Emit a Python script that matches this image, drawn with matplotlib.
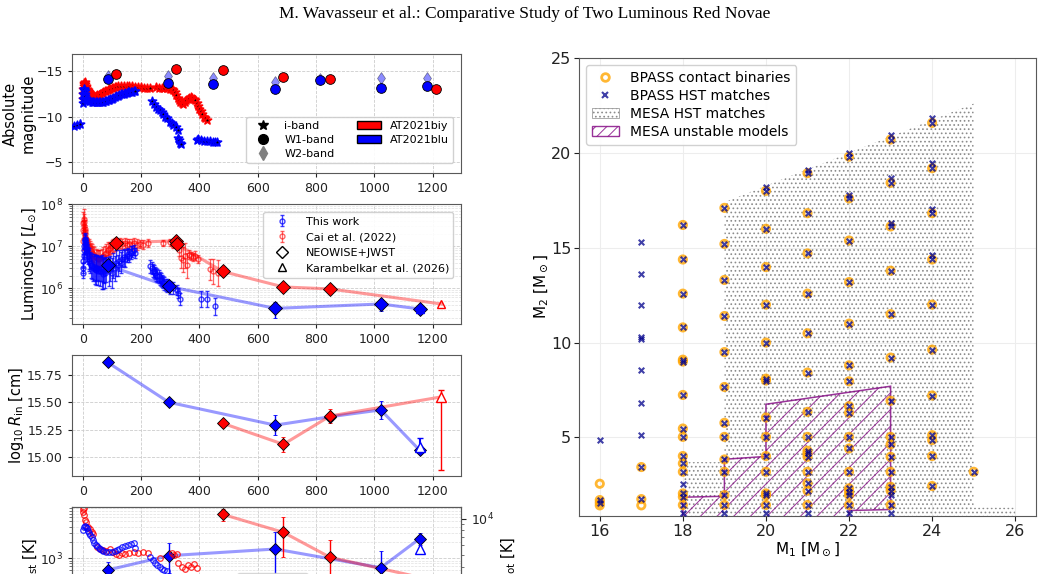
import numpy as np
import matplotlib
matplotlib.use("Agg")
import matplotlib.pyplot as plt
from matplotlib.lines import Line2D
from matplotlib.patches import Patch, Polygon
from matplotlib.ticker import NullFormatter

# ---------------- data: panel 1 (absolute magnitude) ----------------
biy_i_day = [0, 1, 2, 3, 4, 5, 6, 8, 10, 12, 15, 18, 22, 26, 30, 35, 40, 45, 50, 55, 60, 65, 70,
             75, 80, 85, 90, 95, 100, 105, 110, 115, 120, 130, 140, 150, 160, 170, 180, 190, 200,
             210, 220, 230, 250, 260, 270, 280, 290, 300, 305, 310, 315, 320, 325, 330, 335, 340,
             345, 350, 355, 360, 365, 370, 375, 380, 385, 390, 395, 400, 405, 410, 415, 420, 425]
biy_i_mag = [-12.0, -12.5, -13.0, -13.4, -13.6, -13.7, -13.8, -13.6, -13.4, -13.3, -13.1, -12.9,
             -12.7, -12.55, -12.45, -12.35, -12.3, -12.3, -12.35, -12.4, -12.5, -12.6, -12.7,
             -12.8, -12.85, -12.95, -13.0, -13.1, -13.15, -13.2, -13.25, -13.3, -13.35, -13.4,
             -13.4, -13.4, -13.35, -13.35, -13.3, -13.3, -13.25, -13.2, -13.2, -13.15, -13.25,
             -13.2, -13.2, -13.2, -13.15, -13.1, -13.0, -12.9, -12.7, -12.4, -12.1, -11.8, -11.6,
             -11.5, -11.45, -11.6, -11.8, -12.0, -12.1, -12.2, -12.1, -11.95, -11.8, -11.5, -11.2,
             -10.9, -10.6, -10.3, -10.0, -9.8, -9.6]

blu_i_day = [-30, -20, -8, 0, 1, 2, 3, 4, 5, 6, 7, 8, 10, 12, 14, 17, 20, 25, 30, 35, 40, 45, 50,
             55, 60, 65, 70, 75, 80, 85, 90, 95, 100, 105, 110, 115, 120, 125, 130, 135, 140, 145,
             150, 155, 160, 165, 170, 175, 180, 236, 245, 252, 259, 265, 270, 276, 282, 290, 299,
             305, 310, 320, 325, 328, 331, 334, 336, 390, 395, 405, 415, 425, 435, 445, 452, 459]
blu_i_mag = [-9.0, -9.1, -9.2, -11.5, -12.0, -12.5, -12.9, -13.1, -13.0, -12.8, -12.5, -12.3,
             -12.0, -12.0, -11.8, -11.8, -11.7, -11.7, -11.65, -11.6, -11.65, -11.6, -11.6, -11.6,
             -11.6, -11.62, -11.65, -11.7, -11.75, -11.8, -11.85, -11.95, -12.0, -12.1, -12.2,
             -12.25, -12.3, -12.4, -12.45, -12.5, -12.55, -12.6, -12.65, -12.7, -12.7, -12.75,
             -12.75, -12.8, -12.8, -11.75, -11.4, -11.1, -10.9, -10.7, -10.5, -10.3, -10.0, -9.8,
             -9.45, -9.3, -9.1, -8.9, -8.5, -7.6, -7.4, -7.15, -7.0, -7.45, -7.5, -7.4, -7.35,
             -7.37, -7.3, -7.25, -7.2, -7.2]

biy_w1_day = [115, 320, 480, 688, 848, 1210]
biy_w1_mag = [-14.7, -15.3, -15.1, -14.4, -14.2, -13.1]
blu_w1_day = [85, 292, 448, 660, 815, 1022, 1180]
blu_w1_mag = [-14.1, -13.7, -13.6, -13.0, -14.0, -13.2, -13.4]
blu_w2_day = [85, 292, 448, 660, 815, 1022, 1180]
blu_w2_mag = [-14.5, -14.5, -14.3, -13.8, -14.2, -14.3, -14.3]

# ---------------- data: panel 2 (luminosity) ----------------
tw_day = [0, 1, 2, 3, 4, 5, 6, 7, 8, 9, 10, 11, 12, 14, 16, 18, 20, 23, 26, 29, 32, 35, 38, 41,
          44, 47, 50, 53, 56, 59, 62, 65, 68, 71, 74, 77, 80, 90, 95, 100, 105, 110, 115, 120,
          125, 130, 135, 140, 145, 150, 155, 160, 165, 170, 175, 180, 232, 236, 240, 244, 248,
          252, 256, 260, 264, 268, 272, 276, 280, 285, 290, 300, 310, 322, 327, 333, 405, 425, 452]
tw_lum = [2.3, 3.0, 4.5, 6.0, 8.0, 10, 12, 14, 15, 13, 11, 10, 9, 8, 7, 6, 5, 4.5, 4.0, 3.5, 3.3,
          3.0, 3.2, 2.8, 3.0, 2.7, 3.1, 2.6, 2.9, 2.5, 3.0, 2.4, 2.8, 2.2, 2.6, 2.3, 2.8, 2.5, 3.0,
          2.3, 3.5, 3.0, 4.0, 3.5, 4.5, 4.0, 5.0, 5.5, 5.0, 6.0, 6.5, 6.0, 7.0, 7.5, 8.0, 7.0, 3.3,
          3.0, 2.6, 2.5, 2.3, 2.1, 2.0, 1.9, 1.7, 1.6, 1.5, 1.4, 1.3, 1.2, 1.15, 1.05, 1.0, 0.9,
          0.75, 0.55, 0.55, 0.55, 0.37]
tw_err = [0.12, 0.12, 0.15, 0.15, 0.15, 0.15, 0.15, 0.15, 0.15, 0.15, 0.15, 0.15, 0.15, 0.2, 0.2,
          0.2, 0.25, 0.25, 0.25, 0.3, 0.3, 0.3, 0.3, 0.35, 0.3, 0.35, 0.3, 0.35, 0.3, 0.35, 0.3,
          0.4, 0.3, 0.35, 0.3, 0.35, 0.3, 0.35, 0.3, 0.35, 0.3, 0.3, 0.3, 0.25, 0.25, 0.25, 0.2,
          0.2, 0.2, 0.15, 0.15, 0.15, 0.15, 0.12, 0.12, 0.12, 0.15, 0.15, 0.15, 0.15, 0.15, 0.15,
          0.15, 0.15, 0.15, 0.15, 0.15, 0.15, 0.15, 0.15, 0.15, 0.15, 0.15, 0.12, 0.12, 0.15,
          0.2, 0.2, 0.2]

cai_day = [0, 1, 2, 3, 4, 5, 6, 7, 8, 9, 10, 12, 14, 17, 20, 24, 28, 32, 36, 40, 44, 48, 52, 56,
           60, 65, 70, 75, 80, 85, 90, 95, 100, 105, 110, 120, 128, 136, 144, 152, 160, 168, 176,
           185, 195, 205, 225, 276, 299, 310, 330, 337, 345, 352, 358, 365, 372, 378, 384, 395,
           435, 447, 462]
cai_lum = [13, 25, 36, 44, 38, 30, 26, 23, 20, 17, 15, 12, 11, 10, 9.5, 8.5, 7.5, 7, 6.5, 6, 5.5,
           5.2, 5, 5, 5.2, 5.5, 6, 6.5, 7, 8, 8.5, 9, 10, 10.5, 11, 11.5, 12, 11.5, 12, 11, 11.5,
           11, 12, 11, 11.5, 11, 12, 12, 12.5, 11, 8.3, 5.3, 4.8, 6, 3.5, 6.3, 5.8, 5.5, 6, 5, 2.8,
           2.5, 2.3]
cai_err = [0.2, 0.2, 0.25, 0.25, 0.2, 0.2, 0.2, 0.15, 0.15, 0.15, 0.15, 0.15, 0.15, 0.15, 0.2,
           0.2, 0.2, 0.2, 0.2, 0.2, 0.2, 0.2, 0.2, 0.2, 0.2, 0.2, 0.2, 0.2, 0.2, 0.2, 0.15, 0.15,
           0.15, 0.15, 0.15, 0.12, 0.12, 0.12, 0.12, 0.12, 0.12, 0.12, 0.12, 0.12, 0.1, 0.1, 0.1,
           0.08, 0.08, 0.08, 0.15, 0.25, 0.3, 0.3, 0.3, 0.1, 0.1, 0.1, 0.1, 0.1, 0.25, 0.3, 0.3]

biy_nw_day = [115, 320, 322, 480, 688, 848]
biy_nw_lum = [12, 13.5, 11.2, 2.5, 1.07, 0.96]
biy_nw_err = [0.05, 0.05, 0.05, 0.05, 0.06, 0.06]
blu_nw_day = [85, 295, 660, 1022, 1155]
blu_nw_lum = [3.5, 1.1, 0.33, 0.42, 0.32]
blu_nw_err = [0.05, 0.05, 0.15, 0.12, 0.05]
kar_day = [1230, 1157]
kar_lum = [0.42, 0.32]

# ---------------- data: panel 3 (inner radius) ----------------
biy_r_day = [480, 688, 848]
biy_r = [15.307, 15.114, 15.374]
biy_r_err = [0.0, 0.07, 0.06]
blu_r_day = [85, 295, 660, 848, 1022, 1155]
blu_r = [15.867, 15.50, 15.29, 15.367, 15.43, 15.06]
blu_r_err = [0.0, 0.0, 0.09, 0.0, 0.08, 0.02]
kar_r_day = [1230, 1157]
kar_r = [15.55, 15.09]
kar_r_lo = [0.67, 0.05]
kar_r_hi = [0.06, 0.08]

# ---------------- data: panel 4 (temperatures) ----------------
biy_td_day = [480, 688, 848, 1230]
biy_td = [6800, 3100, 1045, 355]
biy_td_lo = [1700, 2050, 595, 150]
biy_td_hi = [1800, 3050, 1175, 60]
blu_td_day = [85, 295, 660, 1022, 1155]
blu_td = [600, 1120, 1500, 664, 2350]
blu_td_lo = [150, 600, 1000, 400, 560]
blu_td_hi = [260, 855, 1690, 710, 620]
kar_td_day = [1157]
kar_td = [1500]

cai_tp_day = [0, 2, 3, 5, 8, 12, 18, 24, 30, 36, 49, 60, 70, 80, 93, 104, 115, 125, 135, 145,
              160, 175, 190, 207, 224, 265, 306, 314, 323, 328, 340, 350, 360, 370, 380, 392]
cai_tp = [11400, 12000, 12300, 10800, 9800, 9400, 8600, 8200, 7800, 7400, 5800, 5600, 5500, 5400,
          5600, 5300, 5100, 5000, 5200, 5100, 5200, 5300, 5200, 5300, 5200, 4700, 5200, 5000, 5100,
          4300, 4000, 3800, 4100, 4000, 4200, 3900]
tw_tp_day = [0, 3, 6, 10, 14, 18, 22, 26, 30, 35, 40, 45, 50, 55, 60, 65, 70, 80, 90, 100, 110,
             117, 125, 135, 145, 155, 165, 175, 180, 232, 240, 248, 256, 264, 272, 280, 288]
tw_tp = [8000, 8600, 8700, 8600, 8300, 7900, 7600, 7300, 7000, 6600, 6300, 6100, 5900, 5700, 5600,
         5500, 5400, 5300, 5250, 5300, 5350, 5450, 5600, 5800, 5950, 6100, 6200, 6250, 5700, 4800,
         4500, 4300, 4100, 3950, 3850, 3760, 3700]

# ---------------- data: right panel (M1 vs M2) ----------------
cb_m1 = ([16] * 4 + [17] * 3 + [18] * 15 + [19] * 12 + [20] * 14 + [21] * 15 + [22] * 16
         + [23] * 14 + [24] * 11 + [25])
cb_m2 = [2.56, 1.70, 1.56, 1.42,
         3.44, 1.75, 1.42,
         16.2, 14.38, 12.58, 10.8, 9.1, 9.0, 7.24, 5.47, 5.03, 4.02, 3.63, 3.19, 2.05, 1.87, 1.44,
         17.1, 15.2, 13.3, 11.4, 9.5, 7.66, 5.77, 5.03, 3.84, 3.19, 1.96, 1.44,
         18.0, 16.0, 13.98, 12.0, 10.0, 8.0, 8.1, 6.05, 5.03, 4.02, 3.19, 2.05, 1.95, 1.44,
         18.93, 16.82, 14.7, 12.58, 10.49, 8.42, 6.35, 5.03, 4.3, 4.16, 3.98, 3.19, 2.58, 2.19, 1.44,
         19.8, 17.6, 15.38, 13.19, 11.0, 8.8, 7.96, 6.65, 6.3, 5.03, 4.42, 3.19, 2.32, 2.14, 1.96,
         1.44,
         20.7, 18.42, 16.12, 13.79, 11.5, 9.21, 6.93, 5.03, 4.63, 3.98, 3.19, 2.4, 2.2, 1.44,
         21.58, 19.19, 16.82, 14.38, 12.0, 9.63, 7.21, 5.12, 4.86, 4.02, 2.44,
         3.19]

hst_m1 = ([16] * 3 + [17] * 10 + [18] * 17 + [19] * 13 + [20] * 16 + [21] * 17 + [22] * 19
          + [23] * 19 + [24] * 15 + [25])
hst_m2 = [4.86, 1.70, 1.56,
          15.3, 13.6, 12.0, 10.3, 10.2, 8.54, 6.84, 5.14, 3.44, 1.75,
          16.2, 14.38, 12.58, 10.8, 9.1, 9.0, 7.24, 5.47, 5.03, 4.02, 3.63, 3.19, 2.54, 2.05, 1.87,
          1.44, 1.03,
          17.1, 15.2, 13.3, 11.4, 9.5, 7.66, 5.77, 5.03, 3.84, 3.19, 1.96, 1.44, 1.03,
          18.2, 18.0, 16.0, 13.98, 12.0, 10.0, 8.0, 8.1, 6.05, 5.03, 4.02, 3.19, 2.05, 1.95, 1.44,
          1.03,
          19.1, 18.93, 16.82, 14.7, 12.58, 10.49, 8.42, 6.35, 5.03, 4.3, 4.16, 3.98, 3.19, 2.58,
          2.19, 1.44, 1.03,
          20.0, 19.8, 17.8, 17.6, 15.38, 13.19, 11.0, 8.8, 7.96, 6.65, 6.3, 5.03, 4.42, 3.19, 2.32,
          2.14, 1.96, 1.44, 1.03,
          20.95, 20.7, 18.65, 18.42, 16.3, 16.12, 13.79, 11.5, 9.21, 6.93, 5.03, 4.63, 3.98, 3.19,
          2.4, 2.2, 1.96, 1.44, 1.03,
          21.85, 21.58, 19.45, 19.19, 17.05, 16.82, 14.6, 14.38, 12.0, 9.63, 7.21, 5.12, 4.86,
          4.02, 2.44,
          3.19]

mesa_hst_poly = [(18, 0.0), (18, 3.7), (19, 3.7), (19, 17.4), (25, 22.6), (25, 1.3), (26, 1.3),
                 (26, 0.0)]
mesa_unstable_poly = [(18, 0.0), (18, 1.85), (19, 1.9), (19, 3.85), (20, 4.0), (20, 6.75),
                      (23, 7.7), (23, 1.2), (22, 1.15), (22, 0.0)]

# ---------------- figure ----------------
W, H = 1049, 574
plt.rcParams['font.family'] = 'DejaVu Sans'
plt.rcParams['hatch.linewidth'] = 0.7
fig = plt.figure(figsize=(W / 100, H / 100), dpi=100)


def box(l, t, r, b):
    return [l / W, 1 - b / H, (r - l) / W, (b - t) / H]


fig.text(0.5, 1 - 14 / H, 'M. Wavasseur et al.: Comparative Study of Two Luminous Red Novae',
         ha='center', va='center', family='Liberation Serif', fontsize=12.5)

spine_c = '0.35'
tick_c = '#222222'


def style_left(ax):
    for s in ax.spines.values():
        s.set_color(spine_c)
    ax.tick_params(labelsize=9, colors=tick_c, length=3)
    ax.tick_params(which='minor', colors=spine_c)
    ax.grid(True, which='major', ls='--', color='0.8', lw=0.6)
    ax.set_xlim(-37, 1297)
    ax.set_xticks([0, 200, 400, 600, 800, 1000, 1200])


# panel 1
ax1 = fig.add_axes(box(72, 54, 461, 173))
style_left(ax1)
ax1.scatter(biy_i_day, biy_i_mag, marker='*', s=38, facecolor='k', edgecolor='red', lw=1.2,
            zorder=3)
ax1.scatter(blu_i_day, blu_i_mag, marker='*', s=38, facecolor='k', edgecolor='blue', lw=1.2,
            zorder=3)
ax1.errorbar(blu_i_day[:3], blu_i_mag[:3], yerr=[0.3, 0.3, 0.5], fmt='none', ecolor='blue',
             elinewidth=1, zorder=2)
ax1.plot(blu_w2_day, blu_w2_mag, 'd', color='blue', alpha=0.45, ms=6.5, mec='k', mew=0.5, zorder=3)
ax1.plot(blu_w1_day, blu_w1_mag, 'o', color='blue', ms=7, mec='k', mew=0.6, zorder=4)
ax1.plot(biy_w1_day, biy_w1_mag, 'o', color='red', ms=7, mec='k', mew=0.6, zorder=4)
ax1.set_ylim(-3.8, -16.9)
ax1.set_yticks([-15, -10, -5])
ax1.set_ylabel('Absolute\nmagnitude', fontsize=10.5, labelpad=1)
h1 = [Line2D([], [], marker='*', color='k', ls='none', ms=7),
      Line2D([], [], marker='o', color='k', ls='none', ms=7),
      Line2D([], [], marker='d', color='gray', ls='none', ms=7),
      Patch(facecolor='red', edgecolor='k'),
      Patch(facecolor='blue', edgecolor='k')]
ax1.legend(h1, ['i-band', 'W1-band', 'W2-band', 'AT2021biy', 'AT2021blu'], ncol=2,
           loc='lower right', bbox_to_anchor=(0.995, 0.035), fontsize=8, handlelength=2.2,
           labelspacing=0.35, borderpad=0.4, columnspacing=2.0, framealpha=0.9)

# panel 2
ax2 = fig.add_axes(box(72, 204.3, 461, 324))
style_left(ax2)
ax2.set_yscale('log')
ax2.grid(True, which='minor', ls='--', color='0.88', lw=0.5)
tw_l = np.array(tw_lum) * 1e6
tw_e = np.array(tw_err)
ax2.errorbar(tw_day, tw_l, yerr=[tw_l * (1 - 10 ** -tw_e), tw_l * (10 ** tw_e - 1)], fmt='o',
             ms=3.5, mfc='none', mec='blue', ecolor='blue', color='blue', elinewidth=0.9,
             capsize=1.5, alpha=0.75, zorder=3)
cai_l = np.array(cai_lum) * 1e6
cai_e = np.array(cai_err)
ax2.errorbar(cai_day, cai_l, yerr=[cai_l * (1 - 10 ** -cai_e), cai_l * (10 ** cai_e - 1)],
             fmt='o', ms=3.5, mfc='none', mec='red', ecolor='red', color='red', elinewidth=0.9,
             capsize=1.5, alpha=0.6, zorder=2)
bl = np.array(blu_nw_lum) * 1e6
rl = np.array(biy_nw_lum) * 1e6
ax2.plot(blu_nw_day + [kar_day[1]], list(bl) + [kar_lum[1] * 1e6], '-', color='blue', alpha=0.4,
         lw=2.2, zorder=2)
ax2.plot(biy_nw_day + [kar_day[0]], list(rl) + [kar_lum[0] * 1e6], '-', color='red', alpha=0.4,
         lw=2.2, zorder=2)
ax2.errorbar(blu_nw_day, bl, yerr=bl * (10 ** np.array(blu_nw_err) - 1), fmt='D', ms=7,
             color='blue', mec='k', mew=0.6, ecolor='blue', elinewidth=1, capsize=1.5, zorder=5)
ax2.errorbar(biy_nw_day, rl, yerr=rl * (10 ** np.array(biy_nw_err) - 1), fmt='D', ms=7,
             color='red', mec='k', mew=0.6, ecolor='red', elinewidth=1, capsize=1.5, zorder=5)
ax2.plot(kar_day[0], kar_lum[0] * 1e6, '^', ms=6, mfc='none', mec='red', zorder=5)
ax2.plot(kar_day[1], kar_lum[1] * 1e6, '^', ms=6, mfc='none', mec='blue', zorder=6)
ax2.set_ylim(1.4e5, 1e8)
ax2.set_ylabel(r'Luminosity [$L_{\odot}$]', fontsize=10.5, labelpad=1)
h2 = [ax2.errorbar([1], [1], yerr=[0.1], fmt='o', ms=3.5, mfc='none', color='blue', capsize=1.5,
                   elinewidth=0.9, alpha=0.75),
      ax2.errorbar([1], [1], yerr=[0.1], fmt='o', ms=3.5, mfc='none', color='red', capsize=1.5,
                   elinewidth=0.9, alpha=0.6),
      Line2D([], [], marker='D', mfc='none', mec='k', ls='none', ms=6.5),
      Line2D([], [], marker='^', mfc='none', mec='k', ls='none', ms=5.5)]
ax2.legend(h2, ['This work', 'Cai et al. (2022)', 'NEOWISE+JWST', 'Karambelkar et al. (2026)'],
           loc='upper right', bbox_to_anchor=(0.995, 0.98), fontsize=8, labelspacing=0.5,
           borderpad=0.4, handlelength=2.6, framealpha=0.9)

# panel 3
ax3 = fig.add_axes(box(72, 355, 461, 475.7))
style_left(ax3)
ax3.plot(blu_r_day, blu_r, '-', color='blue', alpha=0.4, lw=2.2, zorder=2)
ax3.plot(biy_r_day + [kar_r_day[0]], biy_r + [kar_r[0]], '-', color='red', alpha=0.4, lw=2.2,
         zorder=2)
ax3.errorbar(blu_r_day, blu_r, yerr=blu_r_err, fmt='D', ms=6.5, color='blue', mec='k', mew=0.6,
             ecolor='blue', elinewidth=1, capsize=1.5, zorder=5)
ax3.errorbar(biy_r_day, biy_r, yerr=biy_r_err, fmt='D', ms=6.5, color='red', mec='k', mew=0.6,
             ecolor='red', elinewidth=1, capsize=1.5, zorder=5)
ax3.errorbar(kar_r_day[0], kar_r[0], yerr=[[kar_r_lo[0]], [kar_r_hi[0]]], fmt='^', ms=7,
             mfc='white', mec='red', ecolor='red', elinewidth=1, capsize=2, zorder=5)
ax3.errorbar(kar_r_day[1], kar_r[1], yerr=[[kar_r_lo[1]], [kar_r_hi[1]]], fmt='^', ms=7,
             mfc='white', mec='blue', ecolor='blue', elinewidth=1.5, capsize=2, zorder=6)
ax3.set_ylim(14.826, 15.934)
ax3.set_yticks([15.0, 15.25, 15.5, 15.75])
ax3.set_yticklabels(['15.00', '15.25', '15.50', '15.75'])
ax3.set_ylabel(r'$\log_{10} R_{\rm in}$ [cm]', fontsize=10.5, labelpad=1)

# panel 4 (partly outside the figure)
ax4 = fig.add_axes(box(72, 506.7, 461, 627))
style_left(ax4)
ax4.tick_params(labelbottom=False)
ax4.set_yscale('log')
ax4.grid(True, which='minor', ls='--', color='0.88', lw=0.5)
ax4.set_ylim(50, 9500)
ax4.yaxis.set_minor_formatter(NullFormatter())
ax4r = ax4.twinx()
ax4r.set_yscale('log')
ax4r.set_ylim(10 ** 3.1, 10 ** 4.1)
ax4r.yaxis.set_minor_formatter(NullFormatter())
ax4r.tick_params(labelsize=9, colors=tick_c)
ax4r.tick_params(which='minor', colors=spine_c)
for s in ax4r.spines.values():
    s.set_color(spine_c)
ax4r.plot(cai_tp_day, cai_tp, 'o', ms=4, mfc='none', mec='red', mew=0.9, alpha=0.8)
ax4r.plot(tw_tp_day, tw_tp, 'o', ms=4, mfc='none', mec='blue', mew=0.9, alpha=0.8)
ax4.plot(blu_td_day, blu_td, '-', color='blue', alpha=0.4, lw=2.2, zorder=2)
ax4.plot(biy_td_day, biy_td, '-', color='red', alpha=0.4, lw=2.2, zorder=2)
ax4.errorbar(blu_td_day, blu_td, yerr=[blu_td_lo, blu_td_hi], fmt='D', ms=6.5, color='blue',
             mec='k', mew=0.6, ecolor='blue', elinewidth=1, capsize=1.5, zorder=5)
ax4.errorbar(biy_td_day, biy_td, yerr=[biy_td_lo, biy_td_hi], fmt='D', ms=6.5, color='red',
             mec='k', mew=0.6, ecolor='red', elinewidth=1, capsize=1.5, zorder=5)
ax4.plot(kar_td_day, kar_td, '^', ms=7, mfc='white', mec='blue', zorder=6)
ax4.set_ylabel(r'T$_{\rm dust}$ [K]', fontsize=10.5, labelpad=0)
ax4r.set_ylabel(r'T$_{\rm phot}$ [K]', fontsize=10.5, labelpad=4)
h4 = [Line2D([], [], marker='D', color='k', ls='none', ms=6),
      Line2D([], [], marker='o', mfc='none', mec='k', ls='none', ms=5)]
ax4.legend(h4, [r'T$_{\rm dust}$', r'T$_{\rm phot}$'], loc='upper left',
           bbox_to_anchor=(0.41, 0.5), fontsize=8.5)

# right panel
axr = fig.add_axes(box(579, 58, 1036, 516))
for s in axr.spines.values():
    s.set_color(spine_c)
axr.grid(True, color='0.93', lw=0.8)
axr.set_axisbelow(True)
axr.add_patch(Polygon(mesa_hst_poly, closed=True, facecolor='none', edgecolor='0.55', lw=0,
                      hatch='....', zorder=1))
axr.add_patch(Polygon(mesa_unstable_poly, closed=True, facecolor='none', edgecolor='purple',
                      lw=1.1, hatch='//', alpha=0.8, zorder=2))
axr.scatter(cb_m1, cb_m2, s=28, facecolor='none', edgecolor='orange', lw=2.0, alpha=0.8,
            zorder=3)
axr.scatter(hst_m1, hst_m2, s=16, marker='x', color='darkblue', lw=1.5, alpha=0.75, zorder=4)
axr.set_xlim(15.5, 26.5)
axr.set_ylim(0.86, 25)
axr.set_xticks([16, 18, 20, 22, 24, 26])
axr.set_yticks([5, 10, 15, 20, 25])
axr.tick_params(labelsize=11.5, colors=tick_c, pad=2)
axr.set_xlabel(r'M$_1$ [M$_\odot$]', fontsize=11, labelpad=1)
axr.set_ylabel(r'M$_2$ [M$_\odot$]', fontsize=11, labelpad=1)
hr = [Line2D([], [], marker='o', ls='none', mfc='none', mec='orange', mew=2.0, alpha=0.8, ms=5.5),
      Line2D([], [], marker='x', ls='none', color='darkblue', mew=1.5, alpha=0.75, ms=4.5),
      Patch(facecolor='none', edgecolor='0.55', hatch='....', lw=0.5),
      Patch(facecolor='none', edgecolor='purple', hatch='///', alpha=0.8)]
axr.legend(hr, ['BPASS contact binaries', 'BPASS HST matches', 'MESA HST matches',
                'MESA unstable models'], loc='upper left', fontsize=10, labelspacing=0.3,
           borderpad=0.4, handlelength=2.0, framealpha=0.9)

fig.savefig('out.png', dpi=100)
